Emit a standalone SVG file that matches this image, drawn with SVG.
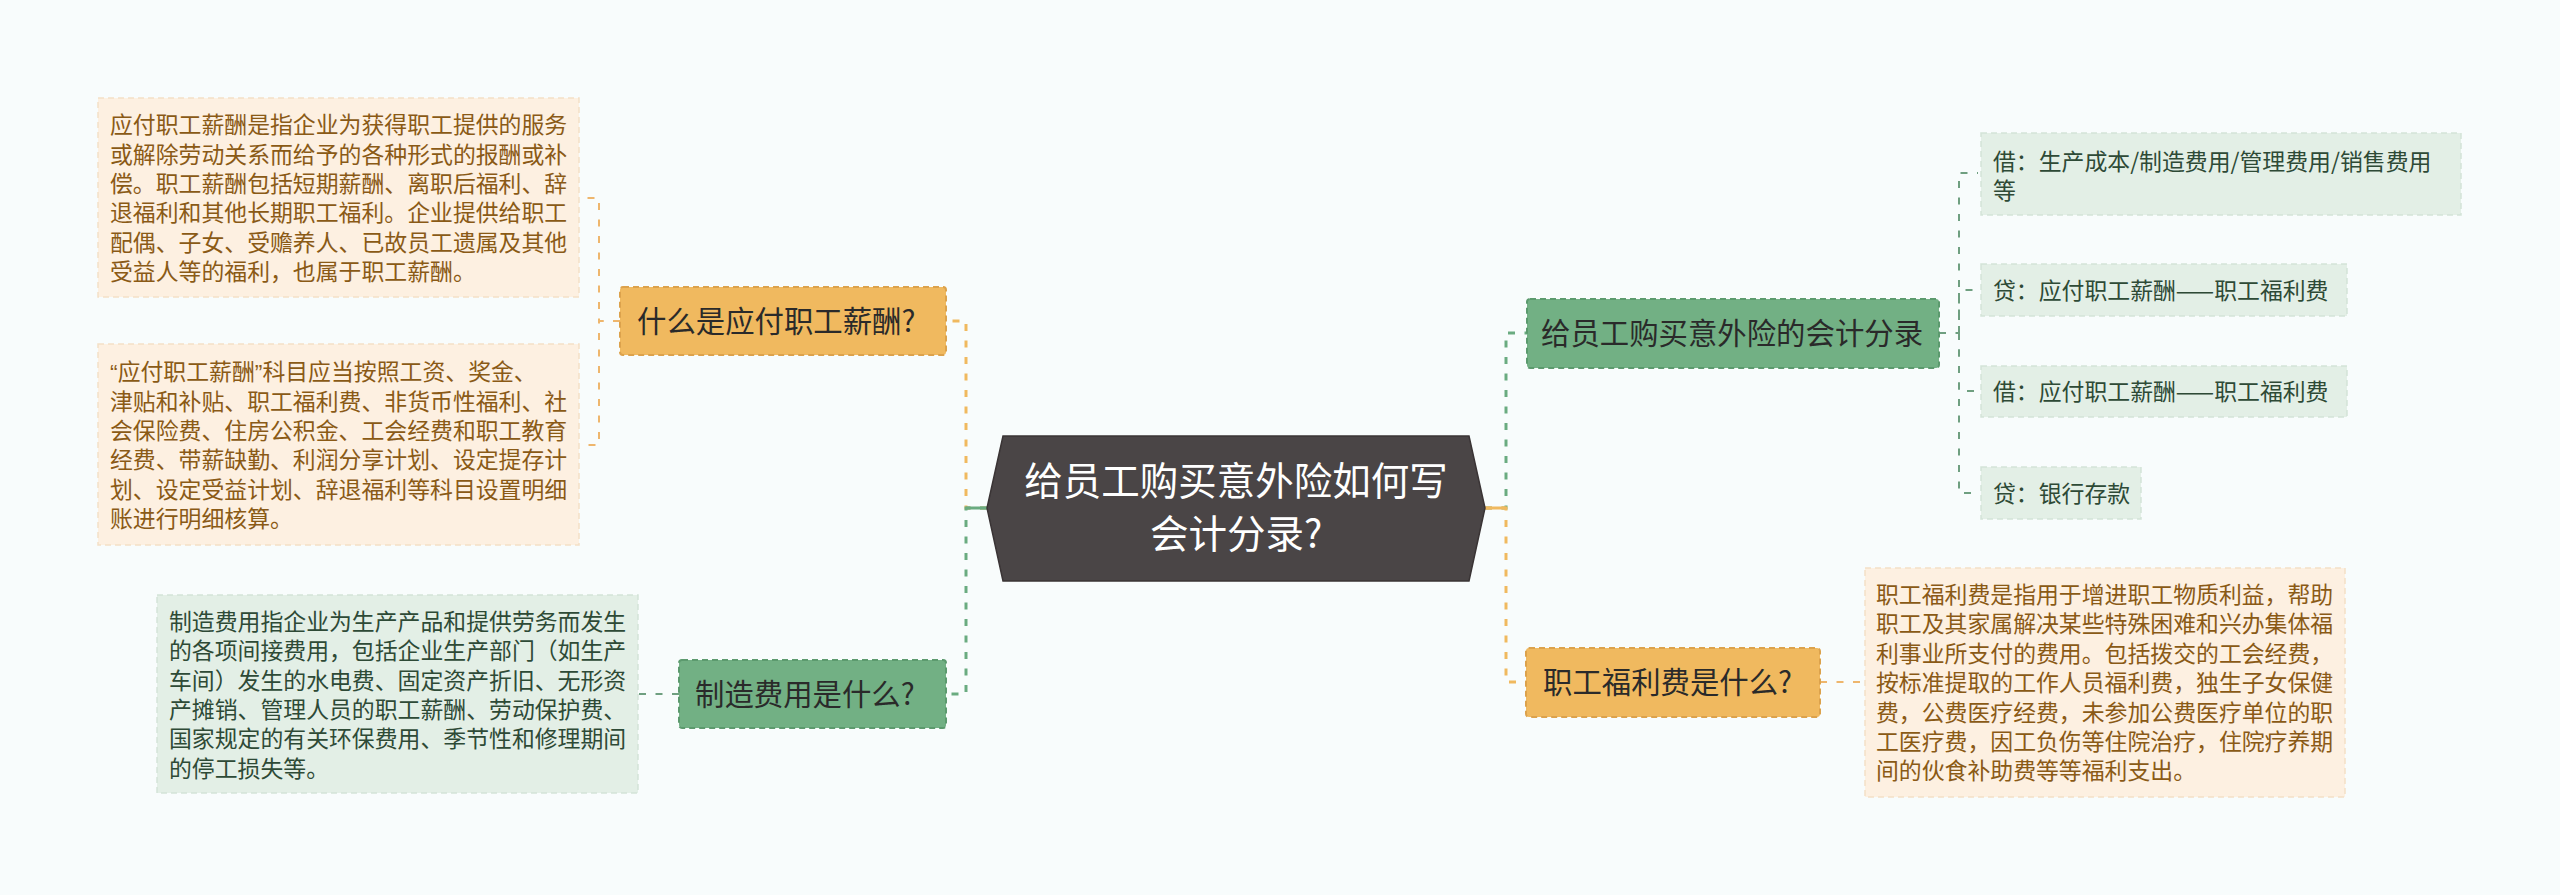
<svg xmlns="http://www.w3.org/2000/svg" width="2560" height="895" viewBox="0 0 2560 895">
<style>
text{font-family:"Noto Sans CJK SC","Noto Sans",sans-serif}
.q{font-family:"Liberation Sans","Noto Sans CJK SC",sans-serif}
.leafO rect{fill:#fdf0e1;stroke:#f4e0c6;stroke-width:1.5;stroke-dasharray:6 4}
.leafO text{fill:#8a5a16;font-size:22.86px}
.leafG rect{fill:#e3efe6;stroke:#d3e4d8;stroke-width:1.5;stroke-dasharray:6 4}
.leafG text{fill:#2e4a36;font-size:22.86px}
.nodeO rect{fill:#f0b95f;stroke:#dca24c;stroke-width:2;stroke-dasharray:6 4}
.nodeG rect{fill:#72b084;stroke:#5c9a6e;stroke-width:2;stroke-dasharray:6 4}
.nodeO text,.nodeG text{fill:#2a2a2a;font-size:29.4px}
.c{fill:none;stroke-dasharray:7 9.5}
.o{stroke:#f0b95f;stroke-width:3}
.g{stroke:#6aab80;stroke-width:3}
.os{stroke:#eeb66d;stroke-width:2}
.gs{stroke:#6f9f80;stroke-width:2}
</style>
<rect width="2560" height="895" fill="#f8fcfc"/>
<g id="connectors">
<path class="c o" d="M987,508 H966 V321 H946"/>
<path class="c g" d="M987,508 H966 V694 H946"/>
<path d="M966,508 H987" stroke="#6aab80" stroke-width="3"/>
<path class="c os" d="M620,321 H599 V198 H586"/>
<path class="c os" d="M620,321 H599 V445 H586"/>
<path class="c gs" d="M679,694 H638"/>
<path class="c g" d="M1485,508 H1506 V333 H1527"/>
<path class="c o" d="M1485,508 H1506 V682 H1526"/>
<path d="M1485,508 H1506" stroke="#f0b95f" stroke-width="3"/>
<path class="c gs" d="M1939,333 H1959 V173 H1978"/>
<path class="c gs" d="M1959,333 V290 H1978"/>
<path class="c gs" d="M1959,333 V391 H1978"/>
<path class="c gs" d="M1959,333 V493 H1978"/>
<path class="c os" d="M1820,682 H1865"/>
</g>
<g id="center">
<polygon points="1003,436 1469,436 1485,508 1469,581 1003,581 987,508" fill="#4a4546" stroke="#3a3435" stroke-width="1.5"/>
<text x="1236" y="495" text-anchor="middle" font-size="38.5" fill="#ffffff">给员工购买意外险如何写</text>
<text x="1236" y="548" text-anchor="middle" font-size="38.5" fill="#ffffff">会计分录?</text>
</g>
<g id="n_yingfu" class="nodeO">
<rect x="620" y="287" width="326" height="68" rx="3"/>
<text x="637" y="332">什么是应付职工薪酬?</text>
</g>
<g id="n_zhizao" class="nodeG">
<rect x="679" y="660" width="267" height="68" rx="3"/>
<text x="695" y="705">制造费用是什么?</text>
</g>
<g id="n_fenlu" class="nodeG">
<rect x="1527" y="299" width="412" height="69" rx="3"/>
<text x="1541" y="344">给员工购买意外险的会计分录</text>
</g>
<g id="n_fuli" class="nodeO">
<rect x="1526" y="648" width="294" height="69" rx="3"/>
<text x="1543" y="693">职工福利费是什么?</text>
</g>
<g id="leaf_yingfu1" class="leafO">
<rect x="98" y="98" width="481" height="199"/>
<text x="110" y="133.2">应付职工薪酬是指企业为获得职工提供的服务</text>
<text x="110" y="162.6">或解除劳动关系而给予的各种形式的报酬或补</text>
<text x="110" y="192">偿。职工薪酬包括短期薪酬、离职后福利、辞</text>
<text x="110" y="221.4">退福利和其他长期职工福利。企业提供给职工</text>
<text x="110" y="250.8">配偶、子女、受赡养人、已故员工遗属及其他</text>
<text x="110" y="280.2">受益人等的福利，也属于职工薪酬。</text>
</g>
<g id="leaf_yingfu2" class="leafO">
<rect x="98" y="344" width="481" height="201"/>
<text x="110" y="380.2"><tspan class="q">“</tspan>应付职工薪酬<tspan class="q">”</tspan>科目应当按照工资、奖金、</text>
<text x="110" y="409.6">津贴和补贴、职工福利费、非货币性福利、社</text>
<text x="110" y="439">会保险费、住房公积金、工会经费和职工教育</text>
<text x="110" y="468.4">经费、带薪缺勤、利润分享计划、设定提存计</text>
<text x="110" y="497.8">划、设定受益计划、辞退福利等科目设置明细</text>
<text x="110" y="527.2">账进行明细核算。</text>
</g>
<g id="leaf_zhizao" class="leafG">
<rect x="157" y="595" width="481" height="198"/>
<text x="169" y="630">制造费用指企业为生产产品和提供劳务而发生</text>
<text x="169" y="659.3">的各项间接费用，包括企业生产部门（如生产</text>
<text x="169" y="688.6">车间）发生的水电费、固定资产折旧、无形资</text>
<text x="169" y="717.9">产摊销、管理人员的职工薪酬、劳动保护费、</text>
<text x="169" y="747.2">国家规定的有关环保费用、季节性和修理期间</text>
<text x="169" y="776.5">的停工损失等。</text>
</g>
<g id="leaf_jie1" class="leafG">
<rect x="1981" y="133" width="480" height="82"/>
<text x="1993" y="169.5">借：生产成本/制造费用/管理费用/销售费用</text>
<text x="1993" y="198.9">等</text>
</g>
<g id="leaf_dai1" class="leafG">
<rect x="1981" y="264" width="366" height="52"/>
<text x="1993" y="298.7">贷：应付职工薪酬——职工福利费</text>
</g>
<g id="leaf_jie2" class="leafG">
<rect x="1981" y="366" width="366" height="51"/>
<text x="1993" y="400.2">借：应付职工薪酬——职工福利费</text>
</g>
<g id="leaf_dai2" class="leafG">
<rect x="1981" y="467" width="160" height="52"/>
<text x="1993" y="501.7">贷：银行存款</text>
</g>
<g id="leaf_fuli" class="leafO">
<rect x="1865" y="568" width="480" height="229"/>
<text x="1876" y="603">职工福利费是指用于增进职工物质利益，帮助</text>
<text x="1876" y="632.4">职工及其家属解决某些特殊困难和兴办集体福</text>
<text x="1876" y="661.8">利事业所支付的费用。包括拨交的工会经费，</text>
<text x="1876" y="691.2">按标准提取的工作人员福利费，独生子女保健</text>
<text x="1876" y="720.6">费，公费医疗经费，未参加公费医疗单位的职</text>
<text x="1876" y="750">工医疗费，因工负伤等住院治疗，住院疗养期</text>
<text x="1876" y="779.4">间的伙食补助费等等福利支出。</text>
</g>
</svg>
